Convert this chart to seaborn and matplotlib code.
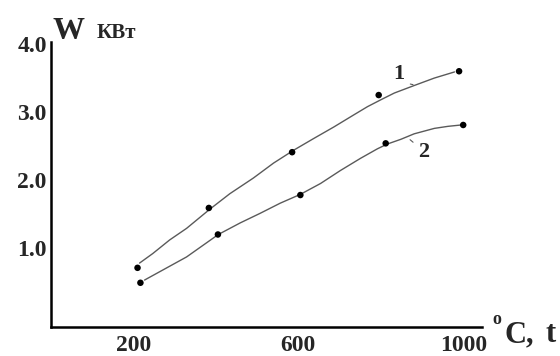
import numpy as np
import pandas as pd
import seaborn as sns
import matplotlib.pyplot as plt

t_1 = [210, 383, 585, 795, 990]
w_1 = [0.71, 1.59, 2.41, 3.25, 3.60]
t_2 = [217, 405, 605, 812, 1000]
w_2 = [0.49, 1.20, 1.78, 2.54, 2.81]

# hand-drawn smooth curves
curve_t_1 = [215, 247, 288, 329, 385, 434, 491, 540, 589,
             637, 686, 735, 768, 800, 833, 881, 930, 979]
curve_w_1 = [0.78, 0.92, 1.12, 1.29, 1.57, 1.80, 2.03, 2.25, 2.44,
             2.61, 2.78, 2.96, 3.08, 3.18, 3.28, 3.39, 3.50, 3.59]
curve_t_2 = [227, 272, 329, 406, 459, 507, 556, 605, 654,
             702, 751, 792, 816, 849, 881, 930, 963, 995]
curve_w_2 = [0.53, 0.68, 0.87, 1.20, 1.37, 1.51, 1.66, 1.79, 1.95,
             2.14, 2.32, 2.46, 2.53, 2.60, 2.68, 2.76, 2.79, 2.81]

x_ticks = [200, 400, 600, 800, 1000]
x_tick_labels = ["200", "", "600", "", "1000"]
y_ticks = [1.0, 2.0, 3.0, 4.0]
y_tick_labels = ["1.0", "2.0", "3.0", "4.0"]

points = pd.concat([
    pd.DataFrame({"t": t_1, "w": w_1, "curve": "1"}),
    pd.DataFrame({"t": t_2, "w": w_2, "curve": "2"}),
])
curves = pd.concat([
    pd.DataFrame({"t": curve_t_1, "w": curve_w_1, "curve": "1"}),
    pd.DataFrame({"t": curve_t_2, "w": curve_w_2, "curve": "2"}),
])

sns.set_style("white")
plt.rcParams["font.family"] = ["Liberation Serif", "DejaVu Serif"]

fig = plt.figure(figsize=(5.6, 3.56), dpi=100)
ax = fig.add_axes([0.091, 0.0815, 0.770, 0.8005])

sns.lineplot(data=curves, x="t", y="w", units="curve", estimator=None,
             color="#5a5a5a", lw=1.0, ax=ax)
sns.scatterplot(data=points, x="t", y="w", color="black", s=22,
                edgecolor="none", zorder=3, ax=ax, legend=False)

ax.set_xlim(0, 1046)
ax.set_ylim(-0.16, 4.03)
ax.set_xticks(x_ticks)
ax.set_xticklabels(x_tick_labels)
ax.set_yticks(y_ticks)
ax.set_yticklabels(y_tick_labels)
ax.set_xlabel("")
ax.set_ylabel("")
ax.tick_params(direction="in", length=4, width=1, color="#444444", labelsize=17)
ax.tick_params(axis="x", pad=6)
ax.tick_params(axis="y", pad=3)
for lab in ax.get_xticklabels() + ax.get_yticklabels():
    lab.set_fontweight("bold")

for side in ["top", "right"]:
    ax.spines[side].set_visible(False)
for side in ["left", "bottom"]:
    ax.spines[side].set_linewidth(1.8)
    ax.spines[side].set_color("black")

# curve labels with small leader lines
ax.annotate("1", xy=(885, 3.40), xytext=(844, 3.56), fontsize=16,
            fontweight="bold", ha="center", va="center",
            arrowprops=dict(arrowstyle="-", color="#5a5a5a", lw=0.8,
                            connectionstyle="arc3,rad=0.3"))
ax.annotate("2", xy=(866, 2.62), xytext=(905, 2.42), fontsize=16,
            fontweight="bold", ha="center", va="center",
            arrowprops=dict(arrowstyle="-", color="#5a5a5a", lw=0.8))

# axis titles
fig.text(0.093, 0.890, "W", fontsize=23, fontweight="bold", ha="left", va="baseline")
fig.text(0.172, 0.893, "КВт", fontsize=15, fontweight="bold", ha="left", va="baseline")
fig.text(0.880, 0.090, "o", fontsize=13, fontweight="bold", ha="left", va="baseline")
fig.text(0.901, 0.039, "C,", fontsize=22, fontweight="bold", ha="left", va="baseline")
fig.text(0.975, 0.039, "t", fontsize=22, fontweight="bold", ha="left", va="baseline")

fig.savefig("out.png", dpi=100, facecolor="white")
